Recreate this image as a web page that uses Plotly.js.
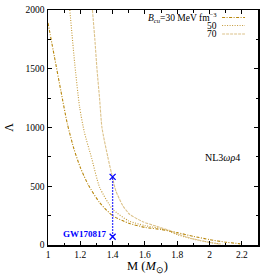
<!DOCTYPE html>
<html>
<head>
<meta charset="utf-8">
<script src="https://cdn.plot.ly/plotly-3.0.1.min.js"></script>
<style>html,body{margin:0;padding:0;background:#fff;}#plot{width:274px;height:274px;}</style>
</head>
<body>
<div id="plot"></div>
<script>
// Data
const bagLabels = ["30", "50", "70"];
const massB30 = [1.0, 1.04, 1.08, 1.12, 1.16, 1.2, 1.25, 1.32, 1.4, 1.5, 1.6, 1.7, 1.8, 1.9, 2.0, 2.1, 2.19];
const lambdaB30 = [1890, 1600, 1310, 1030, 820, 660, 510, 360, 250, 185, 150, 132, 105, 74, 46, 24, 10];
const massB50 = [1.135, 1.165, 1.195, 1.225, 1.27, 1.32, 1.4, 1.5, 1.6, 1.7, 1.75, 1.8, 1.9, 2.0, 2.08];
const lambdaB50 = [2000, 1550, 1180, 960, 740, 490, 305, 205, 165, 140, 118, 88, 50, 22, 7];
const massB70 = [1.275, 1.29, 1.303, 1.32, 1.334, 1.37, 1.4, 1.42, 1.463, 1.505, 1.587, 1.67, 1.75, 1.8, 1.85, 1.9, 2.0, 2.06];
const lambdaB70 = [2000, 1750, 1500, 1234, 1000, 750, 570, 460, 335, 262, 198, 160, 125, 95, 72, 52, 22, 8];
const gwMass = [1.4, 1.4];
const gwLambda = [70, 580];

const serif = "Liberation Serif, Times New Roman, serif";
const c30 = "#b8860b", c50 = "#c49a38", c70 = "#dcc28a";
const d30 = "3px,1.5px,1px,1.5px", d50 = "1px,1.5px", d70 = "3px,1px";

const traces = [
  {x: massB30, y: lambdaB30, mode: "lines", line: {color: c30, width: 1.1, dash: d30, shape: "spline", smoothing: 0.6}},
  {x: massB50, y: lambdaB50, mode: "lines", line: {color: c50, width: 1.1, dash: d50, shape: "spline", smoothing: 0.6}},
  {x: massB70, y: lambdaB70, mode: "lines", line: {color: c70, width: 1.1, dash: d70, shape: "spline", smoothing: 0.6}},
  {x: gwMass, y: gwLambda, mode: "lines+markers", line: {color: "#0000ff", width: 1.3, dash: "1.5px,1.5px"},
   marker: {symbol: "x-thin", size: 6, line: {color: "#0000ff", width: 1.3}}}
];

const legY = [0.968, 0.934, 0.898];
const legDash = [d30, d50, d70];
const legCol = [c30, c50, c70];
const shapes = [];
const annotations = [];
for (let i = 0; i < 3; i++) {
  shapes.push({type: "line", xref: "paper", yref: "paper", x0: 0.829, x1: 0.938, y0: legY[i], y1: legY[i],
    line: {color: legCol[i], width: 1.1, dash: legDash[i]}});
  annotations.push({xref: "paper", yref: "paper", x: 0.815, y: legY[i], xanchor: "right", yanchor: "middle",
    showarrow: false, font: {family: serif, size: 9.5, color: "#000"},
    text: i === 0 ? "<i>B</i><sub><i>cu</i></sub>=" + bagLabels[i] + " MeV fm<sup>−3</sup>" : bagLabels[i]});
}
annotations.push({xref: "paper", yref: "paper", x: 0.833, y: 0.374, xanchor: "center", yanchor: "middle",
  showarrow: false, font: {family: serif, size: 10, color: "#000"}, text: "NL3<i>ωρ</i>4"});
annotations.push({xref: "paper", yref: "paper", x: 0.174, y: 0.047, xanchor: "center", yanchor: "middle",
  showarrow: false, font: {family: serif, size: 9, color: "#0000ff"}, text: "<b>GW170817</b>"});
annotations.push({xref: "paper", yref: "paper", x: 0.474, y: -0.092, xanchor: "center", yanchor: "middle",
  showarrow: false, font: {family: serif, size: 12.5, color: "#000"}, text: "M (<i>M</i><sub>⊙</sub>)"});

const layout = {
  width: 274, height: 274,
  margin: {l: 48, r: 16, t: 10, b: 29},
  paper_bgcolor: "#fff", plot_bgcolor: "#fff",
  showlegend: false,
  font: {family: serif, size: 10, color: "#000"},
  xaxis: {
    range: [1, 2.3], tick0: 1, dtick: 0.2, ticks: "inside", ticklen: 4, tickwidth: 1, tickcolor: "#000",
    showline: true, linecolor: "#000", linewidth: 1.5, mirror: "ticks", showgrid: false, zeroline: false,
    minor: {dtick: 0.1, ticks: "inside", ticklen: 2.5, tickcolor: "#000", showgrid: false},
    tickfont: {family: serif, size: 9.5, color: "#000"}
  },
  yaxis: {
    range: [0, 2000], tick0: 0, dtick: 500, ticks: "inside", ticklen: 4, tickwidth: 1, tickcolor: "#000",
    showline: true, linecolor: "#000", linewidth: 1.5, mirror: "ticks", showgrid: false, zeroline: false,
    minor: {dtick: 250, ticks: "inside", ticklen: 2.5, tickcolor: "#000", showgrid: false},
    tickfont: {family: serif, size: 9.5, color: "#000"},
    title: {text: "Λ", font: {family: serif, size: 12, color: "#000"}, standoff: 9}
  },
  shapes: shapes,
  annotations: annotations
};

Plotly.newPlot("plot", traces, layout, {staticPlot: true, displayModeBar: false});
</script>
</body>
</html>
